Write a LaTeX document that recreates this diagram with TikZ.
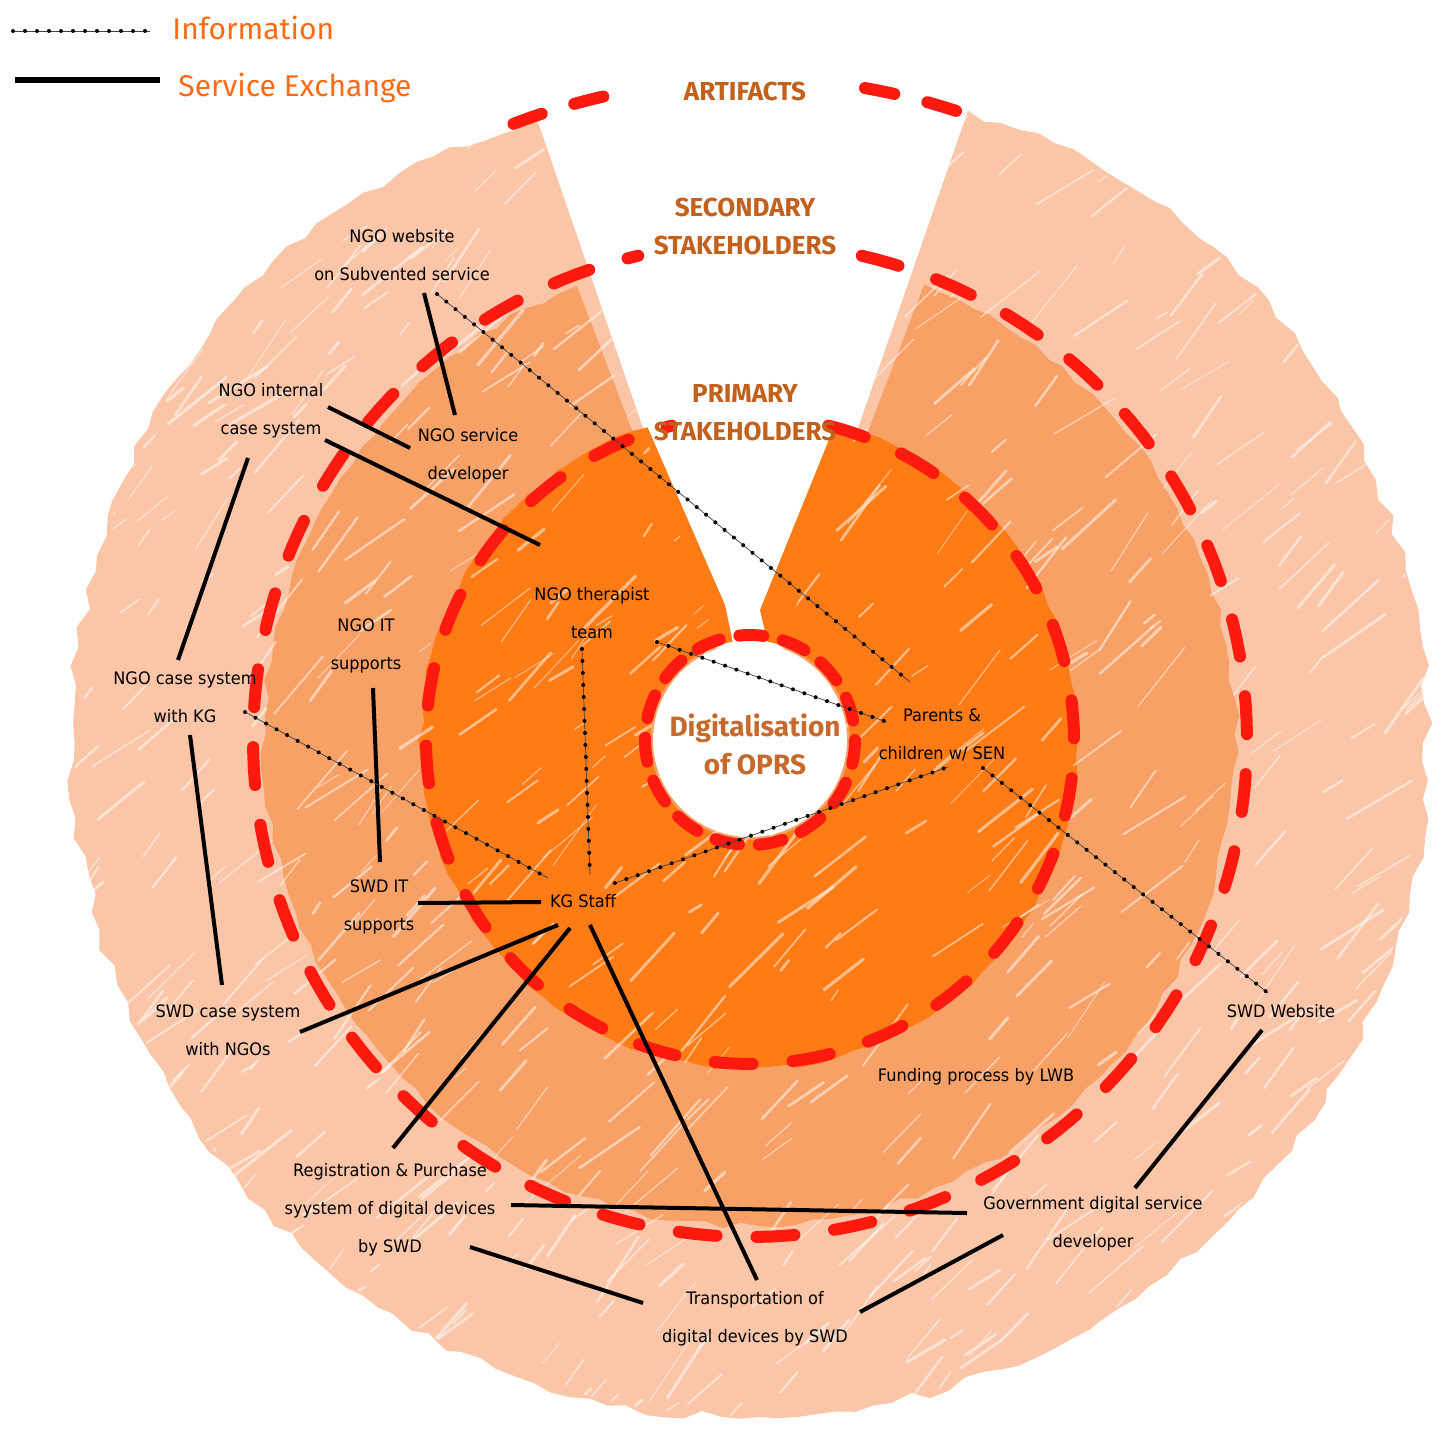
\documentclass[tikz,border=0pt]{standalone}
\usepackage{fontspec}
\setmainfont{DejaVu Sans}[FakeStretch=0.94]
\newfontfamily\hand{Fira Sans}
\usetikzlibrary{calc}
\definecolor{lightp}{HTML}{FBC6A8}
\definecolor{medp}{HTML}{F8A166}
\definecolor{darko}{HTML}{FF7B15}
\definecolor{dred}{HTML}{FF1A10}
\definecolor{hbrown}{HTML}{C2601C}
\definecolor{dbrown}{HTML}{C8692C}
\definecolor{lorange}{HTML}{FF6A14}
\begin{document}
\begin{tikzpicture}[x=0.5pt,y=-0.5pt,
  lbl/.style={font=\fontsize{8.6}{19}\selectfont, align=center, inner sep=0pt, text=black},
  hdr/.style={font=\hand\bfseries\fontsize{13}{19}\selectfont, align=center, inner sep=0pt, text=hbrown},
  legtxt/.style={font=\hand\fontsize{15}{17}\selectfont, inner sep=0pt, text=lorange},
  svc/.style={draw=black, line width=2pt},
  info/.style={draw=black!75, line width=0.35pt, postaction={draw=black, line width=2pt, line cap=round, dash pattern=on 0pt off 6pt}},
  reddash/.style={draw=dred, line width=6pt, line cap=round, dash pattern=on 19pt off 20pt},
  streak/.style={draw=white, opacity=0.5, line cap=round},
]
\useasboundingbox (0,0) rectangle (1450,1440);
\fill[white] (0,0) rectangle (1450,1440);

% ---------------- rings ----------------
\begin{scope}[shift={(750,740)}]
  \pgfmathsetseed{3}
  \fill[lightp] (0,0) -- plot[domain=289:611, samples=200, variable=\t]
     (\t:{678-22*max(0,1-(611-\t)/30)-14*max(0,1-(\t-289)/30)+12*(rnd-0.5)}) -- cycle;
  \fill[medp] (0,0) -- plot[domain=291:609, samples=150, variable=\t] (\t:{486+8*(rnd-0.5)}) -- cycle;
  \fill[darko] plot[domain=285:612, samples=110, variable=\t] (\t:{329+6*(rnd-0.5)})
     -- (-25,-135) -- plot[domain=620:280, samples=40, variable=\t] (\t:100) -- (10,-130) -- cycle;
  % hatching streaks
  \begin{scope}
    \clip (0,0) -- plot[domain=289:611, samples=90, variable=\t]
      (\t:{676-22*max(0,1-(611-\t)/30)-14*max(0,1-(\t-289)/30)}) -- cycle;
    \pgfmathsetseed{11}
    \foreach \i in {1,...,800}{
      \pgfmathsetmacro\px{-690+1380*rnd}
      \pgfmathsetmacro\py{-690+1380*rnd}
      \pgfmathsetmacro\ll{12+65*rnd}
      \pgfmathsetmacro\aa{30+28*rnd}
      \pgfmathsetmacro\lw{0.4+1.2*rnd}
      \draw[streak, line width=\lw pt] (\px,\py) -- ++({\ll*cos(\aa)},{-\ll*sin(\aa)});
    }
  \end{scope}
  \fill[white] plot[domain=0:360, samples=72, variable=\t] (\t:97) -- cycle;
  % dashed boundaries
  \draw[reddash, dash pattern=on 12pt off 10pt] plot[domain=0:360, samples=90, variable=\t] (\t:105);
  \draw[reddash] plot[domain=284:616, samples=140, variable=\t] (\t:324);
  \draw[reddash] plot[domain=283:617, samples=180, variable=\t] (\t:497);
  \draw[reddash, dash pattern=on 15pt off 17pt] plot[domain=249:260, samples=12, variable=\t] (\t:660);
  \draw[reddash, dash pattern=on 15pt off 17pt] plot[domain=280:291, samples=12, variable=\t] (\t:662);
\end{scope}

% ---------------- legend ----------------
\coordinate (l1a) at (13,31); \coordinate (l1b) at (150,31);
\draw[info] (l1a) -- (l1b);
\node[legtxt, anchor=west] (linfo) at (172,28) {Information};
\coordinate (l2a) at (15,80); \coordinate (l2b) at (160,80);
\draw[draw=black, line width=2.6pt] (l2a) -- (l2b);
\node[legtxt, anchor=west] (lsvc) at (178,88) {Service Exchange};

% ---------------- headers ----------------
\node[hdr] (art) at (745,91) {ARTIFACTS};
\node[hdr] (sec) at (745,226) {SECONDARY\\STAKEHOLDERS};
\node[hdr] (pri) at (745,413) {PRIMARY\\STAKEHOLDERS};
\node[hdr, text=dbrown, font=\hand\bfseries\fontsize{14}{19}\selectfont] (dig) at (755,744) {Digitalisation\\of OPRS};

% ---------------- labels ----------------
\node[lbl] (web) at (402,255) {NGO website\\on Subvented service};
\node[lbl] (ngoint) at (271,411) {NGO internal\\case system};
\node[lbl] (ngodev) at (468,456) {NGO service\\developer};
\node[lbl] (ther) at (592,613) {NGO therapist\\team};
\node[lbl] (ngoit) at (366,646) {NGO IT\\supports};
\node[lbl] (ngocase) at (185,697) {NGO case system\\with KG};
\node[lbl] (par) at (942,735) {Parents \&\\children w/ SEN};
\node[lbl] (swdit) at (379,907) {SWD IT\\supports};
\node[lbl] (kg) at (583,901) {KG Staff};
\node[lbl] (swdcase) at (228,1030) {SWD case system\\with NGOs};
\node[lbl] (swdweb) at (1281,1011) {SWD Website};
\node[lbl] (fund) at (976,1077) {Funding process by LWB};
\node[lbl] (reg) at (390,1210) {Registration \& Purchase\\syystem of digital devices\\by SWD};
\node[lbl] (gov) at (1093,1224) {Government digital service\\developer};
\node[lbl] (trans) at (755,1319) {Transportation of\\digital devices by SWD};

% ---------------- service exchange ----------------
\draw[svc] ([shift={(22,38)}]web.center) -- ([shift={(-13,-41)}]ngodev.center);
\draw[svc] ([shift={(57,-4)}]ngoint.center) -- ([shift={(-58,-8)}]ngodev.center);
\draw[svc] ([shift={(54,29)}]ngoint.center) -- ([shift={(-52,-68)}]ther.center);
\draw[svc] ([shift={(-23,47)}]ngoint.center) -- ([shift={(-7,-37)}]ngocase.center);
\draw[svc] ([shift={(7,42)}]ngoit.center) -- ([shift={(1,-45)}]swdit.center);
\draw[svc] ([shift={(5,38)}]ngocase.center) -- ([shift={(-6,-45)}]swdcase.center);
\draw[svc] ([shift={(39,-4)}]swdit.center) -- ([shift={(-42,1)}]kg.center);
\draw[svc] ([shift={(-25,24)}]kg.center) -- ([shift={(72,2)}]swdcase.center);
\draw[svc] ([shift={(-13,27)}]kg.center) -- ([shift={(3,-62)}]reg.center);
\draw[svc] ([shift={(7,24)}]kg.center) -- ([shift={(2,-39)}]trans.center);
\draw[svc] ([shift={(121,-5)}]reg.center) -- ([shift={(-126,-11)}]gov.center);
\draw[svc] ([shift={(80,37)}]reg.center) -- ([shift={(-112,-16)}]trans.center);
\draw[svc] ([shift={(-90,11)}]gov.center) -- ([shift={(105,-7)}]trans.center);
\draw[svc] ([shift={(-19,19)}]swdweb.center) -- ([shift={(42,-36)}]gov.center);

% ---------------- information ----------------
\draw[info] ([shift={(35,39)}]web.center) -- ([shift={(-32,-53)}]par.center);
\draw[info] ([shift={(65,29)}]ther.center) -- ([shift={(-55,-13)}]par.center);
\draw[info] ([shift={(-10,36)}]ther.center) -- ([shift={(7,-26)}]kg.center);
\draw[info] ([shift={(60,15)}]ngocase.center) -- ([shift={(-35,-23)}]kg.center);
\draw[info] ([shift={(32,-18)}]kg.center) -- ([shift={(6,32)}]par.center);
\draw[info] ([shift={(41,33)}]par.center) -- ([shift={(-13,-18)}]swdweb.center);
\end{tikzpicture}
\end{document}
